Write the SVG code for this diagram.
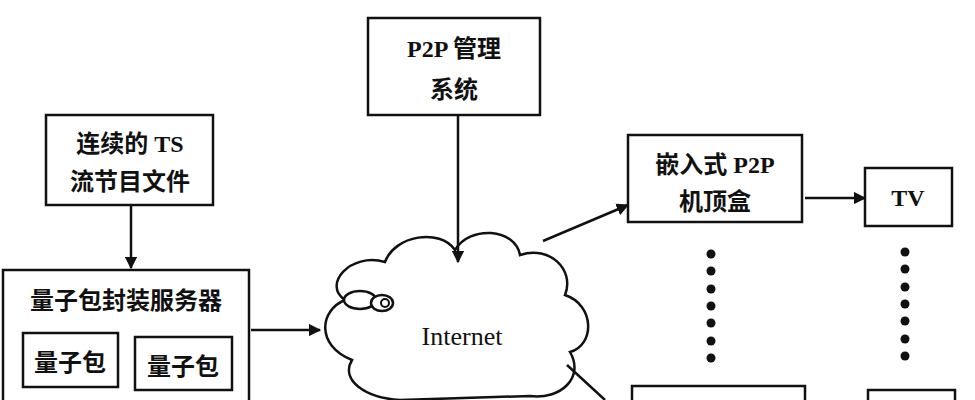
<svg xmlns="http://www.w3.org/2000/svg" width="975" height="400" viewBox="0 0 975 400">
<defs>
<style>
.b{fill:#fff;stroke:#111;stroke-width:2.5}
.t{font-family:"Liberation Serif","Noto Sans CJK SC",serif;font-weight:bold;font-size:24px;fill:#111;text-anchor:middle}
.c{stroke:#111;stroke-width:2.5;fill:none}
</style>
<marker id="a" viewBox="0 0 10 10" refX="9" refY="5" markerWidth="5" markerHeight="5" orient="auto"><path d="M0,0L10,5L0,10z" fill="#111"/></marker>
</defs>
<rect width="975" height="400" fill="#fff"/>
<g id="ts"><rect class="b" x="46" y="115" width="167" height="90"/><text class="t" x="130" y="152">连续的 TS</text><text class="t" x="130" y="190">流节目文件</text></g>
<g id="p2pm"><rect class="b" x="368" y="18" width="172" height="97"/><text class="t" x="454" y="57">P2P 管理</text><text class="t" x="454" y="98">系统</text></g>
<g id="server"><rect class="b" x="3" y="270" width="246" height="140"/><text class="t" x="126" y="309">量子包封装服务器</text>
<rect class="b" x="23" y="333" width="95" height="54"/><text class="t" x="70" y="371">量子包</text>
<rect class="b" x="135" y="337" width="97" height="53"/><text class="t" x="183" y="375">量子包</text></g>
<g id="cloud">
<path class="b" d="M345,300 C322,285 350,252 385,262 C395,235 440,228 455,250 C470,225 515,228 520,255 C550,245 575,270 565,295 C595,305 595,345 570,352 C585,378 560,400 530,396 L400,400 C365,398 340,380 352,360 C315,345 320,310 345,300 Z"/>
<ellipse class="b" cx="360" cy="300" rx="16" ry="9"/><ellipse class="b" cx="382" cy="303" rx="11" ry="8"/><ellipse cx="385" cy="303" rx="4" ry="4" fill="none" stroke="#111" stroke-width="2"/>
<text class="t" x="462" y="345" style="font-weight:normal;font-size:26px">Internet</text></g>
<g id="stb"><rect class="b" x="628" y="135" width="174" height="87"/><text class="t" x="715" y="173">嵌入式 P2P</text><text class="t" x="715" y="210">机顶盒</text></g>
<g id="tv"><rect class="b" x="865" y="168" width="87" height="58"/><text class="t" x="908" y="206">TV</text></g>
<g id="stb2"><rect class="b" x="632" y="386" width="173" height="30"/></g>
<g id="tv2"><rect class="b" x="868" y="390" width="87" height="30"/></g>
<g id="dots" fill="#111">
<circle cx="711" cy="254" r="4.5"/><circle cx="711" cy="271" r="4.5"/><circle cx="711" cy="289" r="4.5"/><circle cx="711" cy="306" r="4.5"/><circle cx="711" cy="323" r="4.5"/><circle cx="711" cy="341" r="4.5"/><circle cx="711" cy="358" r="4.5"/>
<circle cx="905" cy="252" r="4.5"/><circle cx="905" cy="269" r="4.5"/><circle cx="905" cy="287" r="4.5"/><circle cx="905" cy="304" r="4.5"/><circle cx="905" cy="321" r="4.5"/><circle cx="905" cy="339" r="4.5"/><circle cx="905" cy="356" r="4.5"/></g>
<g id="connectors">
<line class="c" x1="131" y1="206" x2="131" y2="268" marker-end="url(#a)"/>
<line class="c" x1="458" y1="116" x2="458" y2="262" marker-end="url(#a)"/>
<line class="c" x1="251" y1="330" x2="320" y2="330" marker-end="url(#a)"/>
<line class="c" x1="543" y1="241" x2="628" y2="205" marker-end="url(#a)"/>
<line class="c" x1="805" y1="198" x2="865" y2="198" marker-end="url(#a)"/>
<line class="c" x1="567" y1="365" x2="605" y2="400"/>
</g>
</svg>
